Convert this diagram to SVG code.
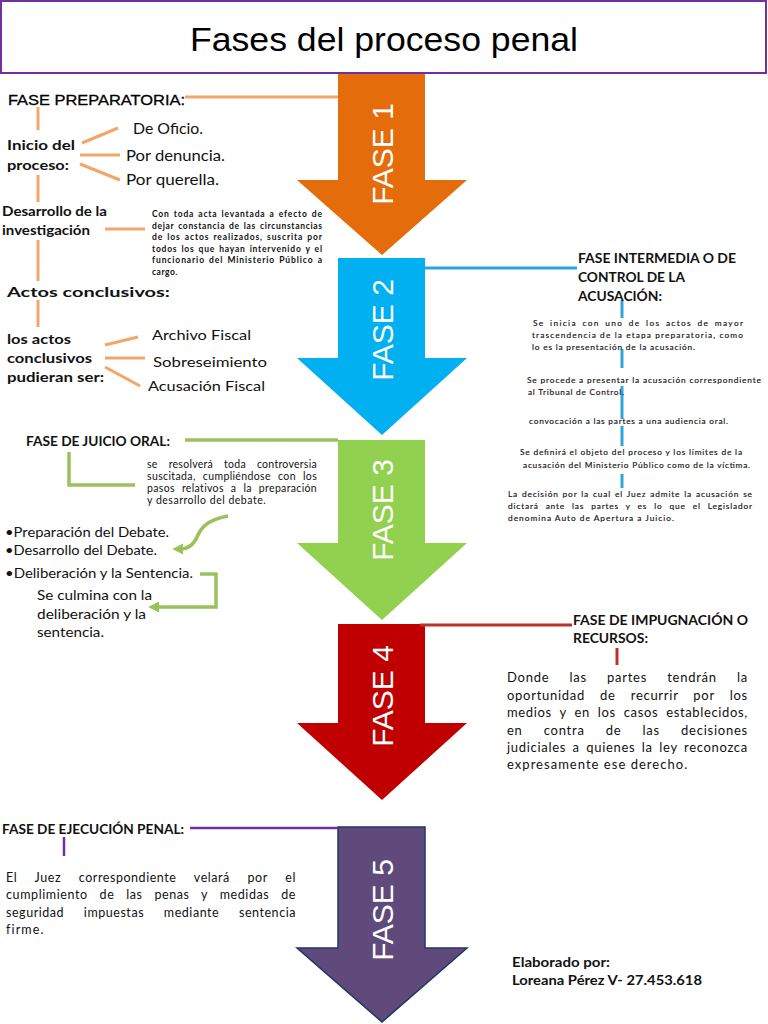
<svg xmlns="http://www.w3.org/2000/svg" width="768" height="1024" viewBox="0 0 768 1024">
<defs>
<style>
.ar{font-family:"Liberation Sans",Arial,sans-serif}
.c{font-family:Lato,"Open Sans","Liberation Sans",sans-serif;fill:#111}
.b{font-weight:bold}
.fase{font-family:"Liberation Sans",Arial,sans-serif;font-size:30px;fill:#fff;text-anchor:middle}
.lo{stroke:#F2A66A;stroke-width:3;fill:none}
.lb{stroke:#2FA6DA;stroke-width:3;fill:none}
.lg{stroke:#9BC25A;stroke-width:3.5;fill:none}
.lr{stroke:#C0302A;stroke-width:3;fill:none}
.lp{stroke:#7030A0;stroke-width:2.5;fill:none}
</style>
<marker id="ag" viewBox="0 0 10 10" refX="3" refY="5" markerWidth="3.2" markerHeight="3.2" orient="auto" markerUnits="strokeWidth">
<path d="M0,0 L10,5 L0,10 z" fill="#9BC25A"/>
</marker>
</defs>
<rect width="768" height="1024" fill="#fff"/>

<g id="title">
<rect x="1" y="1" width="765" height="72" fill="#fff" stroke="#7030A0" stroke-width="2"/>
<text class="ar" x="384" y="51" font-size="34" text-anchor="middle" textLength="388" lengthAdjust="spacingAndGlyphs">Fases del proceso penal</text>
</g>

<g id="fase1">
<polygon points="338,74 425,74 425,180 467,180 382,255 297,180 338,180" fill="#E46C0A"/>
<text class="fase" transform="translate(393,154) rotate(-90)">FASE 1</text>
</g>
<g id="fase2">
<polygon points="338,258 425,258 425,358 467,358 382,435 297,358 338,358" fill="#00B0F0"/>
<text class="fase" transform="translate(393,330) rotate(-90)">FASE 2</text>
</g>
<g id="fase3">
<polygon points="338,440 425,440 425,543 467,543 382,620 297,543 338,543" fill="#92D050"/>
<text class="fase" transform="translate(393,510) rotate(-90)">FASE 3</text>
</g>
<g id="fase4">
<polygon points="338,624 425,624 425,723 467,723 382,800 297,723 338,723" fill="#C00000"/>
<text class="fase" transform="translate(393,696) rotate(-90)">FASE 4</text>
</g>
<g id="fase5">
<polygon points="338,827 425,827 425,948 467,948 382,1022 297,948 338,948" fill="#604A7B" stroke="#1F3763" stroke-width="1.5"/>
<text class="fase" transform="translate(393,910) rotate(-90)">FASE 5</text>
</g>

<g id="connectors">
<path class="lo" d="M185,97 H338"/>
<path class="lo" d="M38,107 V130"/>
<path class="lo" d="M82,143 L118,128"/>
<path class="lo" d="M80,155 H120"/>
<path class="lo" d="M80,164 L120,180"/>
<path class="lo" d="M38,175 V202"/>
<path class="lo" d="M105,229 H145"/>
<path class="lo" d="M38,240 V281"/>
<path class="lo" d="M38,300 V327"/>
<path class="lo" d="M105,345 L138,337"/>
<path class="lo" d="M105,358 H145"/>
<path class="lo" d="M105,367 L140,386"/>

<path class="lb" d="M425,268 H577"/>
<path class="lb" d="M622,300 V318"/>
<path class="lb" d="M622,349 V368"/>
<path class="lb" d="M622,386 V419"/>
<path class="lb" d="M622,426 V446"/>
<path class="lb" d="M622,474 V488"/>

<path class="lg" d="M185,440 H338"/>
<path class="lg" d="M69,452 V485 H135"/>
<path class="lg" d="M228,516 C205,520 200,530 197,537 C193,546 186,549 180,549" marker-end="url(#ag)"/>
<path class="lg" d="M200,574 H216 V607 H156" marker-end="url(#ag)"/>

<path class="lr" d="M420,625 H572"/>
<path class="lr" d="M617,648 V665"/>

<path class="lp" d="M190,828 H338"/>
<path class="lp" d="M64,837 V856"/>
</g>

<g id="preparatoria">
<text class="ar" x="8" y="105" font-size="15.5" textLength="177" lengthAdjust="spacingAndGlyphs" stroke="#000" stroke-width="0.3">FASE PREPARATORIA:</text>
<text class="c b" x="7" y="150" font-size="14" textLength="68" lengthAdjust="spacingAndGlyphs">Inicio del</text>
<text class="c b" x="7" y="170" font-size="14" textLength="62" lengthAdjust="spacingAndGlyphs">proceso:</text>
<text class="c" x="133" y="134" font-size="14.5" textLength="70" lengthAdjust="spacingAndGlyphs">De Oficio.</text>
<text class="c" x="126" y="161" font-size="14.5" textLength="99" lengthAdjust="spacingAndGlyphs">Por denuncia.</text>
<text class="c" x="126" y="185" font-size="14.5" textLength="93" lengthAdjust="spacingAndGlyphs">Por querella.</text>
<text class="c b" x="2" y="216" font-size="13" textLength="105" lengthAdjust="spacingAndGlyphs">Desarrollo de la</text>
<text class="c b" x="2" y="235" font-size="13" textLength="88" lengthAdjust="spacingAndGlyphs">investigación</text>
<g class="c b" font-size="8.5" word-spacing="1.2">
<text x="152" y="217" textLength="170" lengthAdjust="spacing">Con toda acta levantada a efecto de</text>
<text x="152" y="228.5" textLength="170" lengthAdjust="spacing">dejar constancia de las circunstancias</text>
<text x="152" y="240" textLength="170" lengthAdjust="spacing">de los actos realizados, suscrita por</text>
<text x="152" y="251.5" textLength="170" lengthAdjust="spacing">todos los que hayan intervenido y el</text>
<text x="152" y="263" textLength="170" lengthAdjust="spacing">funcionario del Ministerio Público a</text>
<text x="152" y="274.5" letter-spacing="0.5">cargo.</text>
</g>
<text class="c b" x="7" y="297" font-size="14" textLength="163" lengthAdjust="spacingAndGlyphs">Actos conclusivos:</text>
<text class="c b" x="7" y="344" font-size="14" textLength="64" lengthAdjust="spacingAndGlyphs">los actos</text>
<text class="c b" x="7" y="363" font-size="14" textLength="85" lengthAdjust="spacingAndGlyphs">conclusivos</text>
<text class="c b" x="7" y="382" font-size="14" textLength="97" lengthAdjust="spacingAndGlyphs">pudieran ser:</text>
<text class="c" x="152" y="340" font-size="14" textLength="99" lengthAdjust="spacingAndGlyphs">Archivo Fiscal</text>
<text class="c" x="153" y="367" font-size="14" textLength="114" lengthAdjust="spacingAndGlyphs">Sobreseimiento</text>
<text class="c" x="148" y="391" font-size="14" textLength="117" lengthAdjust="spacingAndGlyphs">Acusación Fiscal</text>
</g>

<g id="intermedia">
<text class="c b" x="578" y="263" font-size="13.5" textLength="158" lengthAdjust="spacingAndGlyphs">FASE INTERMEDIA O DE</text>
<text class="c b" x="578" y="282" font-size="13.5" textLength="107" lengthAdjust="spacingAndGlyphs">CONTROL DE LA</text>
<text class="c b" x="578" y="301" font-size="13.5" textLength="84" lengthAdjust="spacingAndGlyphs">ACUSACIÓN:</text>
<g class="c" font-size="8.3" stroke="#111" stroke-width="0.15">
<text x="533" y="326" textLength="210" lengthAdjust="spacing" word-spacing="2">Se inicia con uno de los actos de mayor</text>
<text x="532" y="338" textLength="211" lengthAdjust="spacing">trascendencia de la etapa preparatoria, como</text>
<text x="532" y="350" textLength="163" lengthAdjust="spacing">lo es la presentación de la acusación.</text>
<text x="527" y="383" textLength="234" lengthAdjust="spacing">Se procede a presentar la acusación correspondiente</text>
<text x="528" y="395" textLength="96" lengthAdjust="spacing">al Tribunal de Control.</text>
<text x="529" y="424" textLength="199" lengthAdjust="spacing">convocación a las partes a una audiencia oral.</text>
<text x="520" y="455" textLength="222" lengthAdjust="spacing">Se definirá el objeto del proceso y los límites de la</text>
<text x="523" y="468" textLength="227" lengthAdjust="spacing">acusación del Ministerio Público como de la víctima.</text>
<text x="508" y="497" textLength="244" lengthAdjust="spacing" word-spacing="1">La decisión por la cual el Juez admite la acusación se</text>
<text x="508" y="509" textLength="244" lengthAdjust="spacing" word-spacing="4">dictará ante las partes y es lo que el Legislador</text>
<text x="508" y="521" textLength="166" lengthAdjust="spacing">denomina Auto de Apertura a Juicio.</text>
</g>
</g>

<g id="juicio">
<text class="c b" x="26" y="446" font-size="13" textLength="144" lengthAdjust="spacingAndGlyphs">FASE DE JUICIO ORAL:</text>
<g class="c" font-size="10.5" letter-spacing="0.3">
<text x="147" y="468" textLength="170" lengthAdjust="spacing" word-spacing="8">se resolverá toda controversia</text>
<text x="147" y="480" textLength="170" lengthAdjust="spacing" word-spacing="4">suscitada, cumpliéndose con los</text>
<text x="147" y="492" textLength="170" lengthAdjust="spacing" word-spacing="4">pasos relativos a la preparación</text>
<text x="147" y="504" textLength="119" lengthAdjust="spacing">y desarrollo del debate.</text>
</g>
<g class="c" font-size="13.5">
<text x="5" y="537" textLength="164" lengthAdjust="spacingAndGlyphs">•Preparación del Debate.</text>
<text x="5" y="555" textLength="152" lengthAdjust="spacingAndGlyphs">•Desarrollo del Debate.</text>
<text x="5" y="578" textLength="188" lengthAdjust="spacingAndGlyphs">•Deliberación y la Sentencia.</text>
<text x="37" y="600" textLength="115" lengthAdjust="spacingAndGlyphs">Se culmina con la</text>
<text x="37" y="619" textLength="109" lengthAdjust="spacingAndGlyphs">deliberación y la</text>
<text x="37" y="637" textLength="67" lengthAdjust="spacingAndGlyphs">sentencia.</text>
</g>
</g>

<g id="impugnacion">
<text class="c b" x="573" y="625" font-size="13.5" textLength="175" lengthAdjust="spacingAndGlyphs">FASE DE IMPUGNACIÓN O</text>
<text class="c b" x="573" y="643" font-size="13.5" textLength="75" lengthAdjust="spacingAndGlyphs">RECURSOS:</text>
<g class="c" font-size="13" letter-spacing="0.8">
<text x="507" y="682" textLength="241" lengthAdjust="spacing" word-spacing="16">Donde las partes tendrán la</text>
<text x="507" y="700" textLength="241" lengthAdjust="spacing" word-spacing="11">oportunidad de recurrir por los</text>
<text x="507" y="717" textLength="241" lengthAdjust="spacing" word-spacing="4">medios y en los casos establecidos,</text>
<text x="507" y="735" textLength="241" lengthAdjust="spacing" word-spacing="17">en contra de las decisiones</text>
<text x="507" y="752" textLength="241" lengthAdjust="spacing" word-spacing="2.5">judiciales a quienes la ley reconozca</text>
<text x="507" y="769" textLength="181" lengthAdjust="spacing">expresamente ese derecho.</text>
</g>
</g>

<g id="ejecucion">
<text class="c b" x="2" y="834" font-size="12.5" textLength="182" lengthAdjust="spacingAndGlyphs">FASE DE EJECUCIÓN PENAL:</text>
<g class="c" font-size="12.5" letter-spacing="0.6">
<text x="6" y="882" textLength="290" lengthAdjust="spacing" word-spacing="14">El Juez correspondiente velará por el</text>
<text x="6" y="899" textLength="290" lengthAdjust="spacing" word-spacing="8">cumplimiento de las penas y medidas de</text>
<text x="6" y="917" textLength="290" lengthAdjust="spacing" word-spacing="16">seguridad impuestas mediante sentencia</text>
<text x="6" y="934" textLength="38" lengthAdjust="spacing">firme.</text>
</g>
</g>

<g id="autor">
<text class="c b" x="512" y="967" font-size="12.5" textLength="98" lengthAdjust="spacingAndGlyphs">Elaborado por:</text>
<text class="c b" x="512" y="985" font-size="12.5" textLength="190" lengthAdjust="spacingAndGlyphs">Loreana Pérez V- 27.453.618</text>
</g>
</svg>
